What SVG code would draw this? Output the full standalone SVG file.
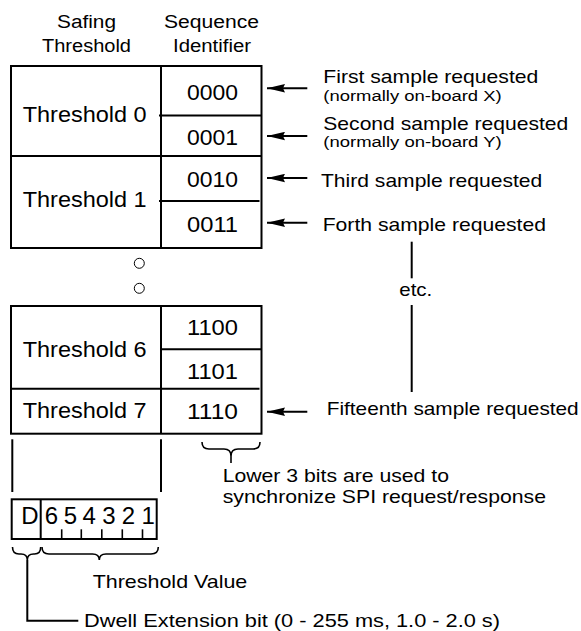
<svg xmlns="http://www.w3.org/2000/svg" width="581" height="631" viewBox="0 0 581 631">
<defs>
<style>
text{font-family:"Liberation Sans",Arial,sans-serif;fill:#000}
.hd{font-size:18px}
.bx{font-size:22px}
.bf{font-size:24px}
.lb{font-size:19px}
.sm{font-size:14px}
.ln{stroke:#000;stroke-width:2;fill:none}
.th{stroke:#000;stroke-width:1.6;fill:none}
</style>
<marker id="ah" viewBox="0 0 18 9" refX="18" refY="4.5" markerWidth="18" markerHeight="9" markerUnits="userSpaceOnUse" orient="auto">
<path d="M18,4.5 L0,0.3 L2,4.5 L0,8.7 Z" fill="#000"/>
</marker>
</defs>
<rect width="581" height="631" fill="#fff"/>

<g id="headers">
<text class="hd" x="57" y="28.3" textLength="59" lengthAdjust="spacingAndGlyphs">Safing</text>
<text class="hd" x="42" y="51.7" textLength="89" lengthAdjust="spacingAndGlyphs">Threshold</text>
<text class="hd" x="164" y="28.3" textLength="95" lengthAdjust="spacingAndGlyphs">Sequence</text>
<text class="hd" x="173" y="52" textLength="78" lengthAdjust="spacingAndGlyphs">Identifier</text>
</g>

<g id="table-top">
<rect class="ln" x="11" y="66" width="250.5" height="182"/>
<line class="ln" x1="161" y1="66" x2="161" y2="248"/>
<line class="ln" x1="159" y1="115.5" x2="261.5" y2="115.5"/>
<line class="ln" x1="11" y1="156" x2="261.5" y2="156"/>
<line class="ln" x1="159" y1="201" x2="259.5" y2="201"/>
<text class="bx" x="22.7" y="121.7" textLength="124" lengthAdjust="spacingAndGlyphs">Threshold 0</text>
<text class="bx" x="22.7" y="206.7" textLength="124" lengthAdjust="spacingAndGlyphs">Threshold 1</text>
<text class="bx" x="187" y="100" textLength="51" lengthAdjust="spacingAndGlyphs">0000</text>
<text class="bx" x="187" y="145" textLength="51" lengthAdjust="spacingAndGlyphs">0001</text>
<text class="bx" x="187" y="186.7" textLength="51" lengthAdjust="spacingAndGlyphs">0010</text>
<text class="bx" x="187" y="231.7" textLength="51" lengthAdjust="spacingAndGlyphs">0011</text>
</g>

<g id="ellipsis">
<circle cx="139.3" cy="263.3" r="5" fill="none" stroke="#000" stroke-width="1"/>
<circle cx="139.3" cy="288.3" r="5" fill="none" stroke="#000" stroke-width="1"/>
</g>

<g id="table-bottom">
<rect class="ln" x="11" y="306" width="250.5" height="127.7"/>
<line class="ln" x1="161" y1="306" x2="161" y2="433.7"/>
<line class="ln" x1="161" y1="349.3" x2="261.5" y2="349.3"/>
<line class="ln" x1="11" y1="388.7" x2="259.5" y2="388.7"/>
<text class="bx" x="22.7" y="356.7" textLength="124" lengthAdjust="spacingAndGlyphs">Threshold 6</text>
<text class="bx" x="22.7" y="418.3" textLength="124" lengthAdjust="spacingAndGlyphs">Threshold 7</text>
<text class="bx" x="187" y="335" textLength="51" lengthAdjust="spacingAndGlyphs">1100</text>
<text class="bx" x="187" y="379.3" textLength="51" lengthAdjust="spacingAndGlyphs">1101</text>
<text class="bx" x="187" y="419.3" textLength="51" lengthAdjust="spacingAndGlyphs">1110</text>
</g>

<g id="bit-field">
<rect class="ln" x="11.7" y="499.3" width="145" height="39.7"/>
<line class="ln" x1="40.7" y1="499.3" x2="40.7" y2="539"/>
<g class="th">
<line x1="61.7" y1="529.3" x2="61.7" y2="539"/>
<line x1="81.3" y1="529.3" x2="81.3" y2="539"/>
<line x1="101.8" y1="529.3" x2="101.8" y2="539"/>
<line x1="122.3" y1="529.3" x2="122.3" y2="539"/>
<line x1="142.5" y1="529.3" x2="142.5" y2="539"/>
</g>
<g class="bf" text-anchor="middle">
<text x="30" y="523.5">D</text>
<text x="51.5" y="523.5">6</text>
<text x="70.5" y="523.5">5</text>
<text x="89.3" y="523.5">4</text>
<text x="109" y="523.5">3</text>
<text x="128.5" y="523.5">2</text>
<text x="148.3" y="523.5">1</text>
</g>
</g>

<g id="labels">
<text class="lb" x="323.3" y="83" textLength="215" lengthAdjust="spacingAndGlyphs">First sample requested</text>
<text class="sm" x="323.3" y="100.5" textLength="178.4" lengthAdjust="spacingAndGlyphs">(normally on-board X)</text>
<text class="lb" x="323.3" y="129.5" textLength="245" lengthAdjust="spacingAndGlyphs">Second sample requested</text>
<text class="sm" x="323.3" y="146.5" textLength="178.4" lengthAdjust="spacingAndGlyphs">(normally on-board Y)</text>
<text class="lb" x="321" y="186.7" textLength="221.3" lengthAdjust="spacingAndGlyphs">Third sample requested</text>
<text class="lb" x="322.7" y="230.7" textLength="223.3" lengthAdjust="spacingAndGlyphs">Forth sample requested</text>
<text class="lb" x="399.3" y="296" textLength="33" lengthAdjust="spacingAndGlyphs">etc.</text>
<text class="lb" x="326.7" y="415" textLength="252" lengthAdjust="spacingAndGlyphs">Fifteenth sample requested</text>
<text class="lb" x="222.7" y="481.7" textLength="226.3" lengthAdjust="spacingAndGlyphs">Lower 3 bits are used to</text>
<text class="lb" x="222.7" y="503.3" textLength="323.3" lengthAdjust="spacingAndGlyphs">synchronize SPI request/response</text>
<text class="lb" x="92.7" y="588.3" textLength="154.6" lengthAdjust="spacingAndGlyphs">Threshold Value</text>
<text class="lb" x="84" y="627" textLength="416" lengthAdjust="spacingAndGlyphs">Dwell Extension bit (0 - 255 ms, 1.0 - 2.0 s)</text>
</g>

<g id="connectors">
<line class="ln" x1="307.3" y1="88.3" x2="267" y2="88.3" marker-end="url(#ah)"/>
<line class="ln" x1="307.3" y1="136" x2="267" y2="136" marker-end="url(#ah)"/>
<line class="ln" x1="307.3" y1="178" x2="267" y2="178" marker-end="url(#ah)"/>
<line class="ln" x1="307.3" y1="222.7" x2="267" y2="222.7" marker-end="url(#ah)"/>
<line class="ln" x1="307.3" y1="411.7" x2="267" y2="411.7" marker-end="url(#ah)"/>
<line class="ln" x1="411.7" y1="241.7" x2="411.7" y2="278.3"/>
<line class="ln" x1="411.7" y1="305" x2="411.7" y2="392"/>
<line class="ln" x1="12.3" y1="439.3" x2="12.3" y2="492"/>
<line class="ln" x1="161" y1="439.3" x2="161" y2="492"/>
<path class="th" d="M202,442 Q202,449 209,449 H224 Q231,449 231,456 Q231,449 238,449 H253 Q260,449 260,442"/>
<line class="th" x1="231" y1="456" x2="231" y2="463"/>
<path class="th" d="M12.5,547 Q12.5,554 19,554 H21 Q27.3,554 27.3,560 Q27.3,554 33.5,554 H34.5 Q40.7,554 40.7,547"/>
<path class="th" d="M42,547 Q42,554 49,554 H92.5 Q99.3,554 99.3,560 Q99.3,554 106,554 H151 Q158.3,554 158.3,547"/>
<path class="ln" d="M27.3,560 V620.7 H78.3"/>
</g>
</svg>
